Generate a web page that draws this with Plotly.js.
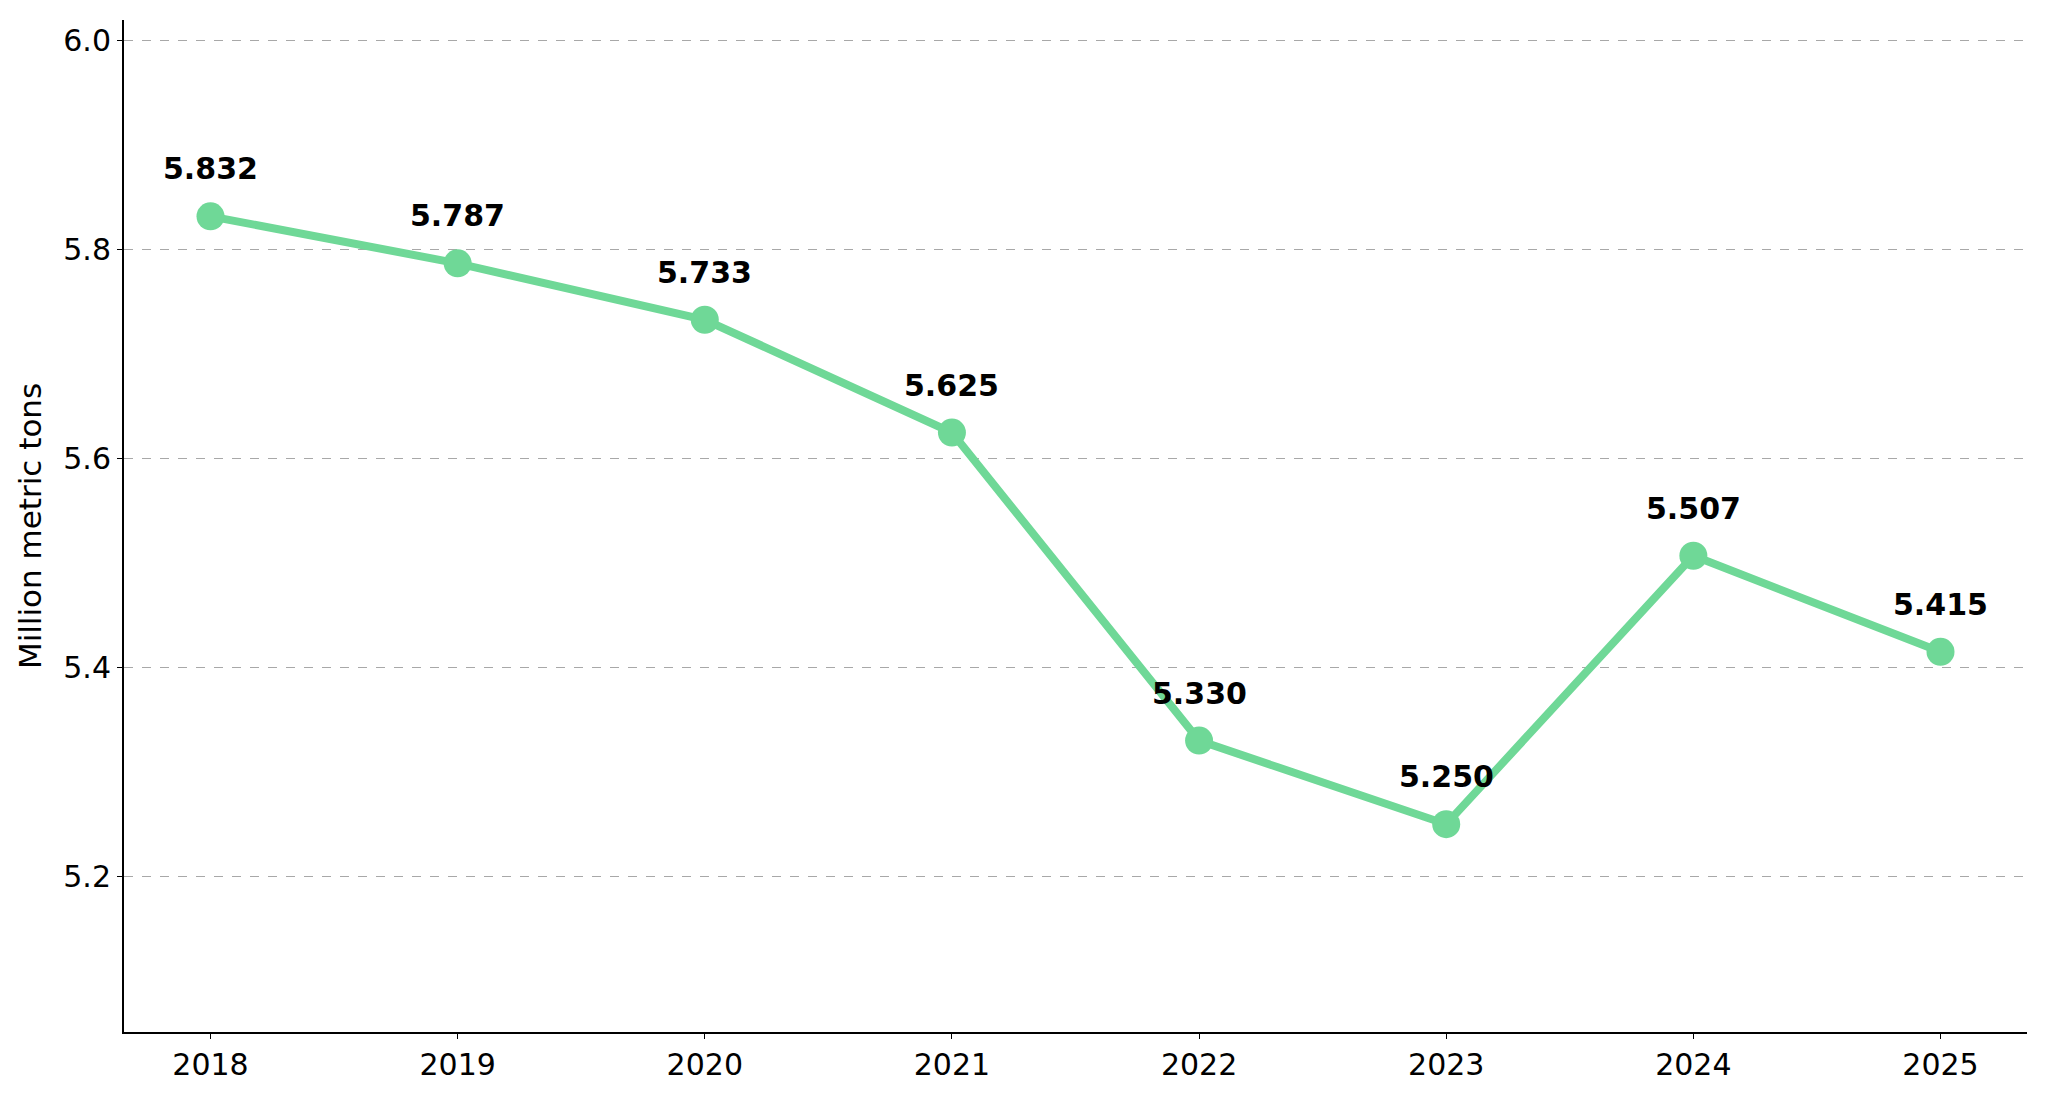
<!DOCTYPE html>
<html>
<head>
<script src="https://cdn.plot.ly/plotly-3.0.1.min.js"></script>
<style>body{margin:0;}#chart{width:2048px;height:1095px;}</style>
</head>
<body>
<div id="chart"></div>
<script>
var years = [2018, 2019, 2020, 2021, 2022, 2023, 2024, 2025];
var values = [5.832, 5.787, 5.733, 5.625, 5.330, 5.250, 5.507, 5.415];
var labels = values.map(function (v) { return v.toFixed(3); });

var trace = {
    x: years,
    y: values,
    mode: 'lines+markers',
    line: {color: '#6fd897', width: 8},
    marker: {color: '#6fd897', size: 28},
    cliponaxis: false,
    hoverinfo: 'none'
};

var annotations = years.map(function (yr, i) {
    return {
        x: yr, y: values[i], text: '<b>' + labels[i] + '</b>',
        showarrow: false, yanchor: 'bottom', yshift: 28,
        font: {family: 'DejaVu Sans', size: 30, color: '#000'}
    };
});

var layout = {
    width: 2048,
    height: 1095,
    margin: {l: 124, r: 21, t: 20, b: 63},
    paper_bgcolor: '#fff',
    plot_bgcolor: '#fff',
    showlegend: false,
    annotations: annotations,
    font: {family: 'DejaVu Sans', size: 30, color: '#000'},
    xaxis: {
        range: [2017.65, 2025.35],
        tickvals: years,
        ticktext: years.map(String),
        showgrid: false,
        zeroline: false,
        showline: true,
        linecolor: '#000',
        linewidth: 2,
        ticks: 'outside',
        ticklen: 5,
        tickcolor: '#000'
    },
    yaxis: {
        range: [5.051, 6.02],
        tickvals: [5.2, 5.4, 5.6, 5.8, 6.0],
        ticktext: ['5.2', '5.4', '5.6', '5.8', '6.0'],
        showgrid: true,
        gridcolor: '#a8a8a8',
        griddash: 'dash',
        gridwidth: 1.4,
        zeroline: false,
        showline: true,
        linecolor: '#000',
        linewidth: 2,
        ticks: 'outside',
        ticklen: 5,
        tickcolor: '#000',
        title: {text: 'Million metric tons', font: {size: 31}, standoff: 12}
    }
};

Plotly.newPlot('chart', [trace], layout, {displayModeBar: false});
</script>
</body>
</html>
